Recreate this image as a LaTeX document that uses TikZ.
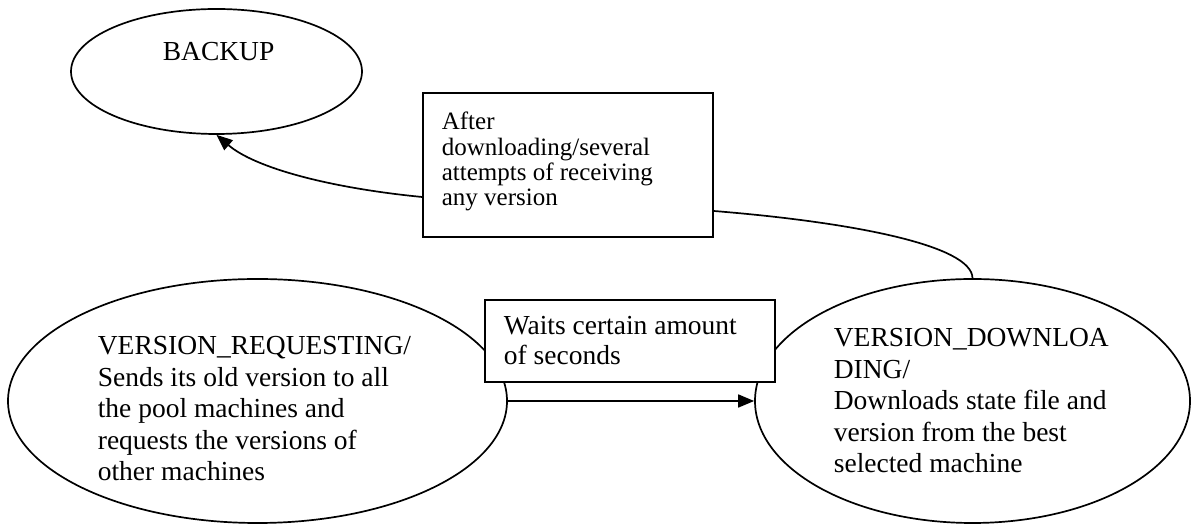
\documentclass[tikz,border=0pt]{standalone}
\usepackage{fontspec}
\setmainfont{Liberation Serif}
\usetikzlibrary{arrows.meta,shapes.geometric}
\begin{document}
\begin{tikzpicture}[x=1pt,y=1pt,
  line width=1.7pt,
  state/.style={draw, ellipse, inner sep=0pt},
  labelbox/.style={draw, fill=white, rectangle, inner sep=0pt},
  % multi-line text is placed by the baseline of its last line
  maintext/.style={anchor=base west, inner sep=0pt, align=left,
    font=\fontsize{27.5}{31.5}\selectfont},
  smalltext/.style={anchor=base west, inner sep=0pt, align=left,
    font=\fontsize{25}{25.2}\selectfont},
  tip/.style={-{Triangle[length=16pt,width=13pt]}}
]
\useasboundingbox (0,0) rectangle (1193,526);

% states
\node[state, minimum width=291pt, minimum height=125pt] (backup) at (216.5,454.5) {};
\node[state, minimum width=499pt, minimum height=244pt] (req) at (257.5,125) {};
\node[state, minimum width=435pt, minimum height=244pt] (dl) at (972.5,125) {};

\node[maintext] (backuptxt) at (162,465) {BACKUP};
\node[maintext] (reqtxt) at (97,45) {VERSION\_REQUESTING/\\Sends its old version to all\\the pool machines and\\requests the versions of\\other machines};
\node[maintext] (dltxt) at (833,53) {VERSION\_DOWNLOA\\DING/\\Downloads state file and\\version from the best\\selected machine};

% transitions
\draw[tip] (req.east) -- (dl.west);

\node[labelbox, minimum width=290pt, minimum height=82pt] (wait) at (630,185) {};
\node[maintext, font=\fontsize{27.5}{30}\selectfont] (waittxt) at (503,161) {Waits certain amount\\of seconds};

\node[labelbox, minimum width=290pt, minimum height=144pt] (after) at (568,361) {};
\node[smalltext] (aftertxt) at (441,320.4) {After\\downloading/several\\attempts of receiving\\any version};

\draw[tip] ([yshift=-32pt]after.west) .. controls (330,338) and (255,358) .. (backup.south);
\draw ([yshift=-46pt]after.east) .. controls (850,304) and (972,281) .. (dl.north);
\end{tikzpicture}
\end{document}
